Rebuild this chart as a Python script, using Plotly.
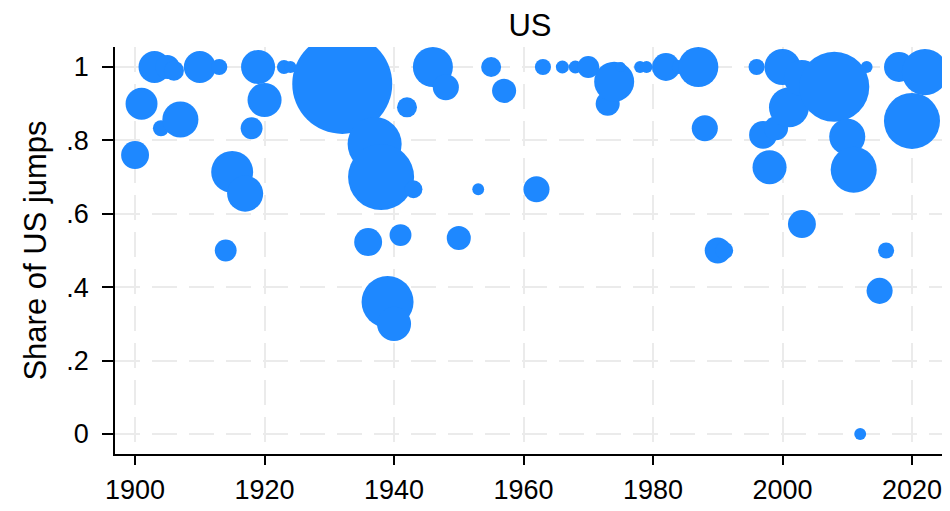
import plotly.graph_objects as go

years = [1900, 1901, 1903, 1904, 1905, 1906, 1907, 1910, 1913, 1914,
         1915, 1917, 1918, 1919, 1920, 1923, 1924, 1932, 1936, 1937,
         1938, 1939, 1940, 1941, 1942, 1943, 1946, 1948, 1950, 1953,
         1955, 1957, 1962, 1963, 1966, 1968, 1970, 1973, 1974, 1975,
         1978, 1979, 1982, 1984, 1987, 1988, 1990, 1991, 1996, 1997,
         1998, 1999, 2000, 2001, 2003, 2003, 2008, 2010, 2011, 2012,
         2013, 2015, 2016, 2018, 2020, 2022]
share = [0.76, 0.90, 1.00, 0.833, 1.00, 0.99, 0.857, 1.00, 1.00, 0.50,
         0.714, 0.655, 0.833, 1.00, 0.91, 1.00, 1.00, 0.954, 0.523, 0.79,
         0.70, 0.36, 0.30, 0.542, 0.89, 0.667, 1.00, 0.945, 0.534, 0.667,
         1.00, 0.935, 0.667, 1.00, 1.00, 1.00, 1.00, 0.90, 0.96, 1.00,
         1.00, 1.00, 1.00, 1.00, 1.00, 0.833, 0.50, 0.50, 1.00, 0.815,
         0.727, 0.833, 1.00, 0.89, 0.97, 0.572, 0.946, 0.81, 0.72, 0.00,
         1.00, 0.39, 0.50, 1.00, 0.853, 0.986]
weight = [7.8, 10.2, 10.2, 2.6, 5.8, 4.0, 13.0, 10.2, 2.6, 4.8,
          17.6, 13.0, 4.8, 11.6, 11.6, 2.0, 1.4, 100.0, 7.8, 29.2,
          43.6, 27.0, 11.6, 4.8, 4.0, 3.2, 16.0, 6.8, 5.8, 1.4,
          4.0, 5.8, 6.8, 2.6, 1.7, 1.7, 4.8, 5.8, 16.0, 1.0,
          1.4, 1.4, 7.8, 2.0, 16.0, 6.8, 6.8, 3.2, 2.6, 7.8,
          11.6, 5.8, 13.0, 16.0, 13.0, 7.8, 49.0, 13.0, 21.2, 1.4,
          1.4, 6.8, 2.6, 9.0, 31.4, 21.2]

title_text = "US"
y_title = "Share of US jumps"
x_ticks = [1900, 1920, 1940, 1960, 1980, 2000, 2020]
y_ticks = [0, 0.2, 0.4, 0.6, 0.8, 1]
y_ticklabels = ["0", ".2", ".4", ".6", ".8", "1"]

max_radius_px = 50
sizeref = max(weight) / (2 * max_radius_px ** 2)

font_family = "Arial, Liberation Sans, Helvetica, sans-serif"
grid_dash = "25px,12px"

fig = go.Figure(go.Scatter(
    x=years, y=share, mode="markers",
    marker=dict(size=weight, sizemode="area", sizeref=sizeref,
                color="#1E88FF", opacity=1, line=dict(width=0)),
    hoverinfo="x+y",
))

fig.update_layout(
    width=950, height=511,
    margin=dict(l=107, r=13, t=39, b=65),
    paper_bgcolor="white", plot_bgcolor="white",
    showlegend=False,
    font=dict(family=font_family, color="black", size=27),
    title=dict(text=title_text, x=0.5, xref="paper", xanchor="center",
               y=1 - 17 / 511, yanchor="middle",
               font=dict(size=31, color="black", family=font_family)),
)

fig.update_xaxes(
    range=[1896.9, 2025.1], tickvals=x_ticks,
    ticks="outside", ticklen=9, tickwidth=1.5, tickcolor="black",
    showline=True, linecolor="black", linewidth=1.5,
    showgrid=True, gridcolor="#EBEBEB", gridwidth=2, griddash=grid_dash,
    zeroline=False, tickfont=dict(size=27), ticklabelstandoff=2,
)
fig.update_yaxes(
    range=[-0.0545, 1.0545], tickvals=y_ticks, ticktext=y_ticklabels,
    ticks="outside", ticklen=11, tickwidth=1.5, tickcolor="black",
    showline=True, linecolor="black", linewidth=1.5,
    showgrid=True, gridcolor="#EBEBEB", gridwidth=2, griddash=grid_dash,
    zeroline=False, tickfont=dict(size=27), ticklabelstandoff=8,
    title=dict(text=y_title, font=dict(size=31), standoff=10),
)

fig.write_html("out.html")
